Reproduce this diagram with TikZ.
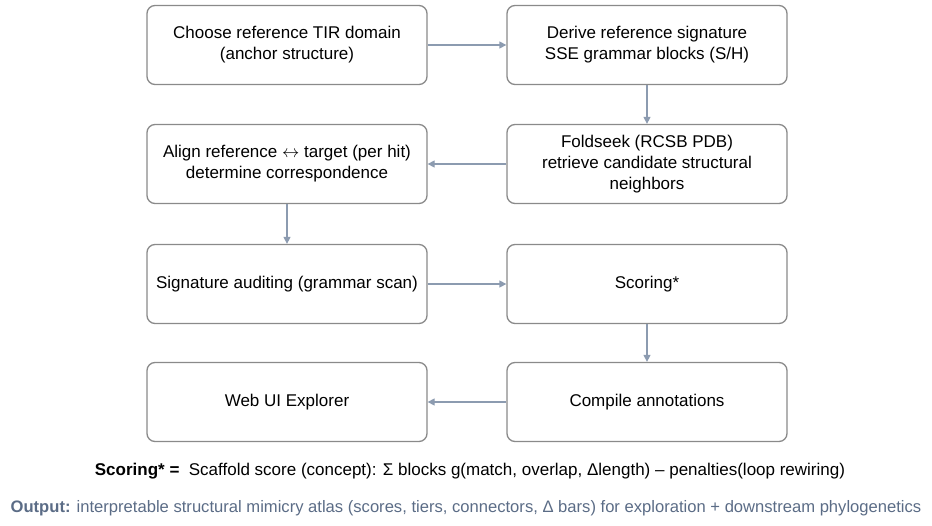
\documentclass[tikz,border=0pt]{standalone}
\usepackage{fontspec}
\setmainfont{Liberation Sans}
\usetikzlibrary{arrows.meta}
\definecolor{arr}{HTML}{8C9BB0}
\definecolor{bd}{HTML}{8A8A8A}
\definecolor{outc}{HTML}{5B6C86}
\begin{document}
\begin{tikzpicture}[x=1pt,y=-1pt,
  box/.style={draw=bd,line width=1.3pt,rounded corners=8pt,minimum width=280pt,minimum height=79pt,align=center,font=\fontsize{17}{21}\selectfont,fill=white},
  conn/.style={draw=arr,line width=1.3pt,-{Triangle[length=7pt,width=7pt]}}]
\useasboundingbox (0,0) rectangle (932,525);
\node[box] (a) at (287,45) {Choose reference TIR domain\\(anchor structure)};
\node[box] (b) at (647,45) {Derive reference signature\\SSE grammar blocks (S/H)};
\node[box] (c) at (647,164) {Foldseek (RCSB PDB)\\retrieve candidate structural\\neighbors};
\node[box] (d) at (287,164) {Align reference $\leftrightarrow$ target (per hit)\\determine correspondence};
\node[box] (e) at (287,284) {Signature auditing (grammar scan)};
\node[box] (f) at (647,284) {Scoring*};
\node[box] (g) at (647,402) {Compile annotations};
\node[box] (h) at (287,402) {Web UI Explorer};
\draw[conn] (a) -- (b);
\draw[conn] (b) -- (c);
\draw[conn] (c) -- (d);
\draw[conn] (d) -- (e);
\draw[conn] (e) -- (f);
\draw[conn] (f) -- (g);
\draw[conn] (g) -- (h);
\node (s) at (470,471) {\fontsize{17}{20}\selectfont\textbf{Scoring* =}\ \ Scaffold score (concept): Σ blocks g(match, overlap, Δlength) – penalties(loop rewiring)};
\node[text=outc] (o) at (466,508) {\fontsize{16.6}{19}\selectfont\textbf{Output:} interpretable structural mimicry atlas (scores, tiers, connectors, Δ bars) for exploration + downstream phylogenetics};
\end{tikzpicture}
\end{document}
